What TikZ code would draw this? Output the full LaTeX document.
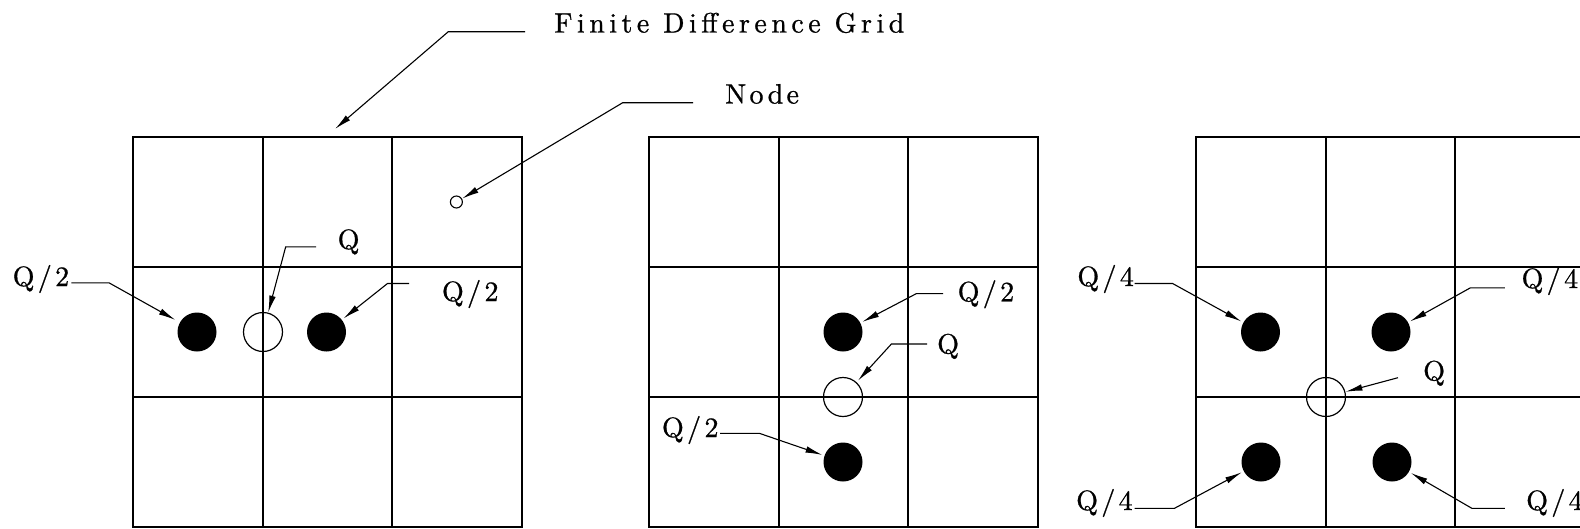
\documentclass[tikz,border=0pt]{standalone}
\usepackage{fontspec}
\newfontfamily\lblfont{lmroman10-regular.otf}[LetterSpace=12,FakeBold=0.8]
\newfontfamily\ttlfont{lmroman10-regular.otf}[LetterSpace=16,FakeBold=0.8]
\usetikzlibrary{arrows.meta}
\begin{document}
\begin{tikzpicture}[x=1pt,y=-1pt,
  gridline/.style={line width=2pt, line cap=rect},
  dot/.style={circle, fill=black, minimum size=39pt, inner sep=0pt},
  opendot/.style={circle, draw=black, line width=1.2pt, minimum size=39pt, inner sep=0pt},
  smalldot/.style={circle, draw=black, line width=1.1pt, minimum size=12pt, inner sep=0pt},
  leader/.style={line width=1.1pt, -{Latex[length=17pt,width=6.5pt]}, shorten >=2pt},
  lbl/.style={anchor=base west, inner sep=0pt, font=\lblfont\fontsize{28}{30}\selectfont},
  ttl/.style={anchor=base west, inner sep=0pt, font=\ttlfont\fontsize{28}{30}\selectfont}]
\useasboundingbox (0,0) rectangle (1580,528);
\fill[white] (0,0) rectangle (1580,528);
\clip (0,0) rectangle (1580,528);
% grids
\foreach \gx in {133,649,1196}{
  \foreach \i in {0,...,3}{
    \draw[gridline] ({\gx+round(\i*129.6)},137) -- ({\gx+round(\i*129.6)},527);
    \draw[gridline] (\gx,{137+\i*130}) -- ({\gx+389},{137+\i*130});
  }
}
% title labels
\node[ttl] (tFDG) at (554,32.5) {Finite Difference Grid};
\node[lbl] (tNode) at (725,103.5) {Node};
\coordinate (gridtip) at (335,129);
\node[smalldot] (n0) at (456.4,202) {};
\draw[line width=1.1pt, -{Latex[length=17pt,width=6.5pt]}] (525,31.7) -- (448.3,31.7) -- (gridtip);
\draw[leader, shorten >=0pt] (693,102.7) -- (622.7,102.7) -- (n0);
% grid 1
\node[dot] (d1L) at (197,332) {};
\node[opendot] (o1) at (263,332) {};
\node[dot] (d1R) at (326.5,332) {};
\node[lbl] (l1a) at (12.5,286) {Q/2};
\node[lbl] (l1b) at (337.5,249) {Q};
\node[lbl] (l1c) at (441.8,301) {Q/2};
\draw[leader, shorten >=5pt] (71.4,282.8) -- (109,282.8) -- (d1L);
\draw[leader, shorten >=0pt] (316,246.8) -- (285.7,246.8) -- (o1);
\draw[leader] (409,283.5) -- (387.5,283.5) -- (d1R);
% grid 2
\node[dot] (d2U) at (843,332) {};
\node[opendot] (o2) at (843,397) {};
\node[dot] (d2D) at (843,462) {};
\node[lbl] (l2a) at (957.5,301.3) {Q/2};
\node[lbl] (l2b) at (937,353.5) {Q};
\node[lbl] (l2c) at (661.8,437) {Q/2};
\draw[leader] (943.2,293.6) -- (916.4,293.6) -- (d2U);
\draw[leader] (927,344) -- (891.4,344) -- (o2);
\draw[leader] (720,433.3) -- (759.3,433.3) -- (d2D);
% grid 3
\node[dot] (d3a) at (1260.5,332) {};
\node[dot] (d3b) at (1391,332) {};
\node[opendot] (o3) at (1326,397) {};
\node[dot] (d3c) at (1261,462) {};
\node[dot] (d3d) at (1392,462) {};
\node[lbl] (l3a) at (1077.2,286) {Q/4};
\node[lbl] (l3b) at (1521.4,288) {Q/4};
\node[lbl] (l3q) at (1423,380.4) {Q};
\node[lbl] (l3c) at (1076,510) {Q/4};
\node[lbl] (l3d) at (1526,510) {Q/4};
\draw[leader] (1134.7,283.5) -- (1172.6,283.5) -- (d3a);
\draw[leader] (1504.9,287.8) -- (1470.4,287.8) -- (d3b);
\draw[leader, shorten >=0pt] (1398,377.7) -- (o3);
\draw[leader] (1134.7,508.4) -- (1174.3,508.4) -- (d3c);
\draw[leader] (1504.9,508.4) -- (1472,508.4) -- (d3d);
\end{tikzpicture}
\end{document}
